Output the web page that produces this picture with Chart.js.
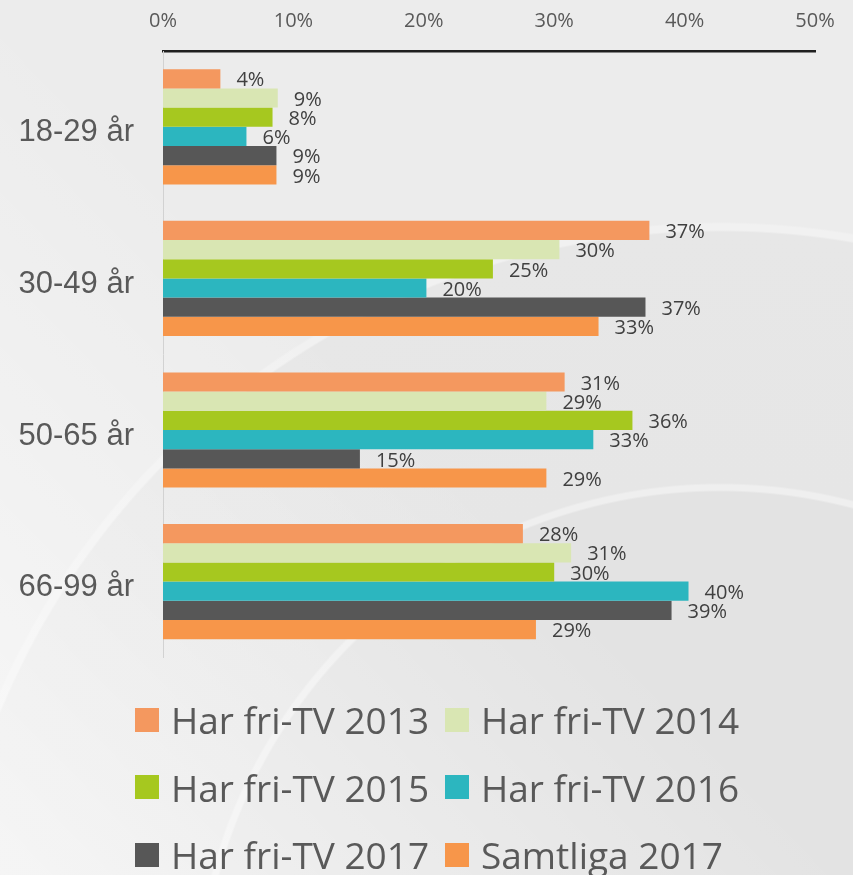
<!DOCTYPE html>
<html lang="sv">
<head>
<meta charset="UTF-8">
<title>Har fri-TV per ålder</title>
<script src="https://cdn.jsdelivr.net/npm/chart.js@4"></script>
<style>
  html, body { margin: 0; padding: 0; }
  body {
    width: 853px; height: 875px; overflow: hidden; position: relative;
    font-family: 'Open Sans', sans-serif;
    background:
      linear-gradient(to top right, rgba(255,255,255,0.6) 0%, rgba(255,255,255,0) 50%),
      radial-gradient(circle at 720px 1010px, #e3e3e3 0, #e3e3e3 518px, #efefef 520px, #efefef 525px, #e6e6e6 527px, #e7e7e7 778px, #f1f1f1 780px, #f1f1f1 786px, #ececec 788px);
  }
  .wrap { position: absolute; left: 0; top: 0; }
  #legend {
    position: absolute; left: 135px; top: 686px;
    display: grid; grid-template-columns: 310px auto; grid-auto-rows: 67.5px;
  }
  .item { display: flex; align-items: center; font-size: 37px; color: #595959; white-space: nowrap; }
  .item .box { width: 24px; height: 24px; margin-right: 12px; flex: none; }
</style>
</head>
<body>
<div class="wrap"><canvas id="chart" width="853" height="697"></canvas></div>
<div id="legend"></div>

<script>
  const kategorier = ['18-29 år', '30-49 år', '50-65 år', '66-99 år'];
  const serier = ['Har fri-TV 2013', 'Har fri-TV 2014', 'Har fri-TV 2015', 'Har fri-TV 2016', 'Har fri-TV 2017', 'Samtliga 2017'];
  const farger = ['#F4985F', '#D9E6B3', '#A6C81F', '#2CB6BF', '#575757', '#F7964A'];

  // andel i procent, en rad per serie (ordning som kategorier)
  const fri2013 = [4.4, 37.3, 30.8, 27.6];
  const fri2014 = [8.8, 30.4, 29.4, 31.3];
  const fri2015 = [8.4, 25.3, 36.0, 30.0];
  const fri2016 = [6.4, 20.2, 33.0, 40.3];
  const fri2017 = [8.7, 37.0, 15.1, 39.0];
  const samtliga2017 = [8.7, 33.4, 29.4, 28.6];
  const vardenPerSerie = [fri2013, fri2014, fri2015, fri2016, fri2017, samtliga2017];

  const xTicks = [0, 10, 20, 30, 40, 50];

  const textFarg = '#595959';

  // etiketter vid staplarnas ände
  const vardeEtiketter = {
    id: 'vardeEtiketter',
    afterDatasetsDraw(chart) {
      const ctx = chart.ctx;
      ctx.save();
      ctx.font = '20px "Open Sans"';
      ctx.fillStyle = '#404040';
      ctx.textAlign = 'left';
      ctx.textBaseline = 'middle';
      chart.data.datasets.forEach(function (ds, i) {
        chart.getDatasetMeta(i).data.forEach(function (bar, j) {
          ctx.fillText(Math.round(ds.data[j]) + '%', bar.x + 16, bar.y + 2);
        });
      });
      ctx.restore();
    }
  };

  function ritaLegend() {
    const el = document.getElementById('legend');
    serier.forEach(function (namn, i) {
      const item = document.createElement('div');
      item.className = 'item';
      item.innerHTML = '<span class="box" style="background:' + farger[i] + '"></span>' + namn;
      el.appendChild(item);
    });
  }

  function ritaDiagram() {
    const ctx = document.getElementById('chart').getContext('2d');
    new Chart(ctx, {
      type: 'bar',
      data: {
        labels: kategorier,
        datasets: serier.map(function (namn, i) {
          return {
            label: namn,
            data: vardenPerSerie[i],
            backgroundColor: farger[i],
            borderWidth: 0,
            categoryPercentage: 0.76,
            barPercentage: 1.0
          };
        })
      },
      options: {
        indexAxis: 'y',
        responsive: false,
        animation: false,
        layout: { padding: { left: 0, right: 38, top: 0, bottom: 13 } },
        plugins: {
          legend: { display: false },
          tooltip: { enabled: false }
        },
        scales: {
          x: {
            position: 'top',
            min: 0,
            max: 50,
            afterBuildTicks: function (s) { s.ticks = xTicks.map(function (v) { return { value: v }; }); },
            afterFit: function (s) { s.height = 51; },
            ticks: {
              color: textFarg,
              font: { family: 'Open Sans', size: 20 },
              padding: 10,
              callback: function (v) { return v + '%'; }
            },
            grid: { display: false },
            border: { display: true, color: '#1f1f1f', width: 2.5 }
          },
          y: {
            afterFit: function (s) { s.width = 163; },
            ticks: {
              color: textFarg,
              font: { family: 'Liberation Sans', size: 31 },
              padding: 21,
              labelOffset: 6
            },
            grid: { display: false },
            border: { display: true, color: '#d2d2d2', width: 1 }
          }
        }
      },
      plugins: [vardeEtiketter]
    });
  }

  ritaLegend();
  document.fonts.load('20px "Open Sans"').then(ritaDiagram, ritaDiagram);
</script>
</body>
</html>
